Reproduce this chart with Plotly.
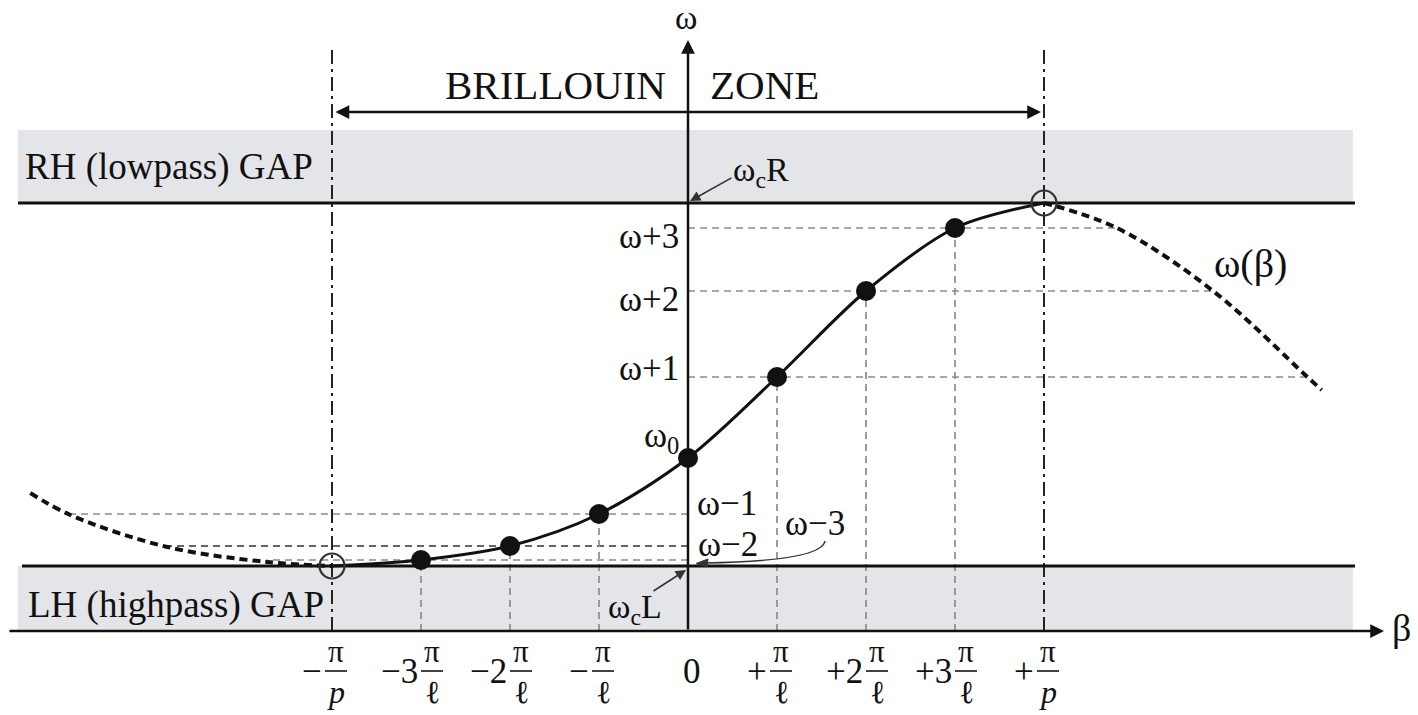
import plotly.graph_objects as go

# ---------------- data (beta in units of pi/l, omega in arbitrary units) ----------------
beta_sites = [-3, -2, -1, 0, 1, 2, 3]
omega_sites = [0.71, 0.85, 1.17, 1.73, 2.54, 3.40, 4.03]
beta_edges = [-4, 4]
omega_cL = 0.65
omega_cR = 4.28
left_ext_beta = [-7.39, -6.94, -5.85, -4.73, -4.0]
left_ext_omega = [1.38, 1.16, 0.84, 0.69, 0.65]
right_ext_beta = [4.0, 4.82, 5.90, 6.96, 7.12]
right_ext_omega = [4.28, 4.03, 3.40, 2.54, 2.41]
band_beta = [-7.53, 7.47]
tick_pos = [-4, -3, -2, -1, 0, 1, 2, 3, 4]
tick_prefix = ["−", "−3", "−2", "−", "0", "+", "+2", "+3", "+"]
tick_den = ["<i>p</i>", "ℓ", "ℓ", "ℓ", "", "ℓ", "ℓ", "ℓ", "<i>p</i>"]
site_labels = ["ω−3", "ω−2", "ω−1", "ω<sub>0</sub>", "ω+1", "ω+2", "ω+3"]

# ---------------- layout helpers (pixel -> data) ----------------
W, H = 1418, 715
X0, SX, Y0, SY = 688, 89.0, 631, 100.0
def X(px): return (px - X0) / SX
def Y(py): return (Y0 - py) / SY
def PX(b): return X0 + SX * b

FONT = "Liberation Serif, Times New Roman, serif"
GRAY = "#8c8c8c"
BAND = "#e4e5e8"

fig = go.Figure()
shapes = []
ann = []

# gap bands
shapes.append(dict(type="rect", xref="x", yref="y", x0=band_beta[0], x1=band_beta[1],
                   y0=omega_cR, y1=Y(130), fillcolor=BAND, line_width=0, layer="below"))
shapes.append(dict(type="rect", xref="x", yref="y", x0=band_beta[0], x1=band_beta[1],
                   y0=0, y1=omega_cL, fillcolor=BAND, line_width=0, layer="below"))

# gray dashed guide lines: horizontal (to the axis) and vertical (to beta axis)
h_ends = {
    -3: left_ext_beta[3], -2: left_ext_beta[2], -1: left_ext_beta[1],
    1: right_ext_beta[3], 2: right_ext_beta[2], 3: right_ext_beta[1]}
for b, w in zip(beta_sites, omega_sites):
    if b == 0:
        continue
    col = "#333333" if b == -2 else GRAY
    shapes.append(dict(type="line", xref="x", yref="y", x0=0, x1=h_ends[b], y0=w, y1=w,
                       layer="below", line=dict(color=col, width=1.7, dash="7px,5px")))
    shapes.append(dict(type="line", xref="x", yref="y", x0=b, x1=b, y0=0, y1=w,
                       layer="below", line=dict(color=GRAY, width=1.7, dash="7px,5px")))

# Brillouin zone boundaries (dash-dot)
for b in beta_edges:
    shapes.append(dict(type="line", xref="x", yref="y", x0=b, x1=b, y0=0, y1=Y(50),
                       layer="below", line=dict(color="#222222", width=2, dash="14px,5px,3px,5px")))

# gap edge lines
shapes.append(dict(type="line", xref="x", yref="y", x0=X(18), x1=X(1355), y0=omega_cR, y1=omega_cR,
                   layer="below", line=dict(color="#111111", width=3)))
shapes.append(dict(type="line", xref="x", yref="y", x0=X(22), x1=X(1355), y0=omega_cL, y1=omega_cL,
                   layer="below", line=dict(color="#111111", width=3)))

# fraction bars of tick labels
for b, pre, den in zip(tick_pos, tick_prefix, tick_den):
    if not den:
        continue
    fx = PX(b) + (4 if len(pre) == 1 else 11)
    shapes.append(dict(type="line", xref="x", yref="y", x0=X(fx - 11), x1=X(fx + 11),
                       y0=Y(671), y1=Y(671), line=dict(color="#111111", width=1.6)))

# omega-3 leader curve
shapes.append(dict(type="path", xref="x", yref="y",
                   path=f"M {X(825)} {Y(541)} Q {X(822)} {Y(561)} {X(704)} {Y(563)}",
                   line=dict(color="#333333", width=1.5)))
shapes.append(dict(type="path", xref="x", yref="y",
                   path=f"M {X(696)} {Y(563.5)} L {X(708)} {Y(559)} L {X(707)} {Y(567)} Z",
                   fillcolor="#333333", line=dict(color="#333333", width=1)))

# dispersion curve: solid within zone, dashed outside
fig.add_trace(go.Scatter(x=[beta_edges[0]] + beta_sites + [beta_edges[1]],
                         y=[omega_cL] + omega_sites + [omega_cR],
                         mode="lines", line=dict(color="#111111", width=3, shape="spline", smoothing=0.9),
                         hoverinfo="skip"))
fig.add_trace(go.Scatter(x=left_ext_beta, y=left_ext_omega, mode="lines",
                         line=dict(color="#111111", width=4, dash="8px,5px", shape="spline"),
                         hoverinfo="skip"))
fig.add_trace(go.Scatter(x=right_ext_beta, y=right_ext_omega, mode="lines",
                         line=dict(color="#111111", width=4, dash="8px,5px", shape="spline"),
                         hoverinfo="skip"))
fig.add_trace(go.Scatter(x=beta_sites, y=omega_sites, mode="markers",
                         marker=dict(size=20, color="#111111"), hoverinfo="skip"))
fig.add_trace(go.Scatter(x=beta_edges, y=[omega_cL, omega_cR], mode="markers",
                         marker=dict(size=25, symbol="circle-open", color="#333333", line=dict(width=2.2)),
                         hoverinfo="skip"))

# axes with arrows
def arrow(x0, y0, x1, y1, width=2.5, size=1.0, head=2, side="end", color="#111111"):
    ann.append(dict(x=x1, y=y1, ax=x0, ay=y0, xref="x", yref="y", axref="x", ayref="y",
                    text="", showarrow=True, arrowhead=head, arrowsize=size, arrowwidth=width,
                    arrowcolor=color, arrowside=side, startarrowhead=head, startarrowsize=size,
                    standoff=0, startstandoff=0))

arrow(X(8), 0, X(1384), 0, width=2.5, size=1.1)
arrow(0, 0, 0, Y(40), width=2.5, size=1.1)
arrow(X(334), Y(112), X(1041), Y(112), width=2.5, size=1.1, side="end+start")
arrow(X(733), Y(177), X(690), Y(201), width=1.6, size=1.3, color="#333333")
arrow(X(652), Y(592), X(686), Y(570), width=1.6, size=1.3, color="#333333")

def text(t, px, py, size=32, xa="center", ya="middle"):
    ann.append(dict(x=X(px), y=Y(py), xref="x", yref="y", text=t, showarrow=False,
                    xanchor=xa, yanchor=ya, font=dict(family=FONT, size=size, color="#111111")))

text("ω", 686, 17, 34)
text("β", 1401, 628, 38)
text("BRILLOUIN", 668, 85, 41, xa="right")
text("ZONE", 708, 85, 41, xa="left")
text("RH (lowpass) GAP", 23, 167, 37, xa="left")
text("LH (highpass) GAP", 26, 605, 37, xa="left")
text("ω<sub>c</sub>R", 731, 172, 34, xa="left")
text("ω<sub>c</sub>L", 606, 609, 34, xa="left")
text("ω(β)", 1250, 263, 40)

# site labels
lab_pos = {3: (681, 236, "right"), 2: (681, 299, "right"), 1: (681, 368, "right"),
           0: (681, 437, "right"), -1: (695, 503, "left"), -2: (696, 544, "left"),
           -3: (783, 523, "left")}
for b, lab in zip(beta_sites, site_labels):
    px, py, xa = lab_pos[b]
    text(lab, px, py, 35, xa=xa)

# tick labels
for b, pre, den in zip(tick_pos, tick_prefix, tick_den):
    if not den:
        text(pre, PX(b) + 4, 671, 35)
        continue
    fx = PX(b) + (4 if len(pre) == 1 else 11)
    text(pre, fx - 12, 671, 35, xa="right")
    text("π", fx, 651, 31)
    text(den, fx, 692, 32)

fig.update_layout(
    width=W, height=H, margin=dict(l=0, r=0, t=0, b=0),
    paper_bgcolor="white", plot_bgcolor="white", showlegend=False,
    xaxis=dict(range=[X(0), X(W)], visible=False, fixedrange=True),
    yaxis=dict(range=[Y(H), Y(0)], visible=False, fixedrange=True),
    shapes=shapes, annotations=ann,
)
fig.write_html("out.html", config={"displayModeBar": False},
               post_script="document.body.style.margin='0';document.body.style.overflow='hidden';")
